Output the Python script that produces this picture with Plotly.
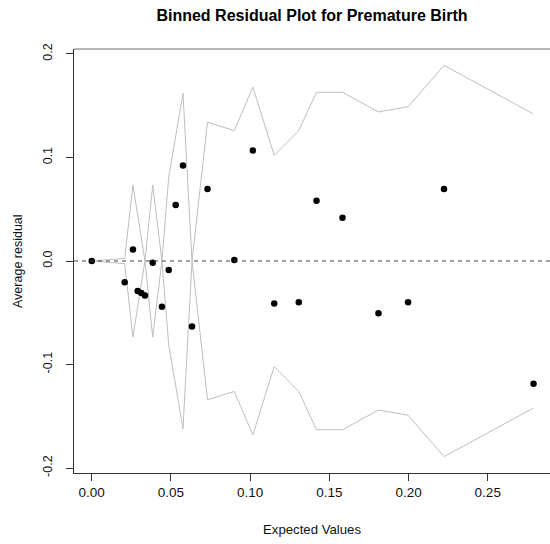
import plotly.graph_objects as go

# ---- data ----
expected = [0.0, 0.0208, 0.026, 0.029, 0.0313, 0.0336, 0.0385, 0.0443, 0.0486,
            0.053, 0.0576, 0.0633, 0.0731, 0.090, 0.1017, 0.1152, 0.1307, 0.1419,
            0.1583, 0.181, 0.1997, 0.2224, 0.2789]
avg_resid = [0.0, -0.0206, 0.011, -0.029, -0.031, -0.0334, -0.0016, -0.0443, -0.0086,
             0.054, 0.0923, -0.0633, 0.0695, 0.001, 0.1068, -0.0411, -0.0398, 0.0582,
             0.0418, -0.0504, -0.0398, 0.0695, -0.1186]
band_2se = [0.0, 0.0025, 0.0735, 0.044, 0.022, 0.0, 0.0735, 0.0, 0.081,
            0.122, 0.162, 0.0, 0.134, 0.126, 0.168, 0.102, 0.126, 0.163,
            0.163, 0.144, 0.149, 0.189, 0.142]
x_ticks = [0.0, 0.05, 0.10, 0.15, 0.20, 0.25]
x_ticktext = ["0.00", "0.05", "0.10", "0.15", "0.20", "0.25"]
y_ticks = [-0.2, -0.1, 0.0, 0.1, 0.2]
y_ticktext = ["-0.2", "-0.1", "0.0", "0.1", "0.2"]

title = "Binned Residual Plot for Premature Birth"
xlab = "Expected Values"
ylab = "Average residual"

FONT = "Liberation Sans, Arial, Helvetica, sans-serif"
band_color = "#bebebe"

fig = go.Figure()
fig.add_trace(go.Scatter(x=expected, y=band_2se, mode="lines",
                         line=dict(color=band_color, width=1), hoverinfo="skip"))
fig.add_trace(go.Scatter(x=expected, y=[-b for b in band_2se], mode="lines",
                         line=dict(color=band_color, width=1), hoverinfo="skip"))
fig.add_trace(go.Scatter(x=expected, y=avg_resid, mode="markers",
                         marker=dict(color="black", size=6.5)))

# dashed zero line
fig.add_shape(type="line", xref="paper", yref="y", x0=0, x1=1, y0=0, y1=0,
              line=dict(color="#444444", width=1, dash="4px,4px"))
# top border of the box
fig.add_shape(type="line", xref="paper", yref="paper", x0=0, x1=1, y0=1, y1=1,
              line=dict(color="#6f6f6f", width=1))

fig.update_layout(
    width=550, height=544, autosize=False,
    margin=dict(l=74, r=0, t=49, b=71),
    plot_bgcolor="white", paper_bgcolor="white",
    showlegend=False,
    font=dict(family=FONT, size=12, color="#111111"),
    title=dict(text="<b>" + title + "</b>", x=0.5, xref="paper", xanchor="center",
               y=1 - 15 / 544, yref="container", yanchor="middle",
               font=dict(family=FONT, size=16, color="black")),
    xaxis=dict(range=[-0.0112, 0.2893], showgrid=False, zeroline=False,
               showline=True, linecolor="#333333", linewidth=1,
               ticks="outside", ticklen=7, tickcolor="#333333",
               tickvals=x_ticks, ticktext=x_ticktext,
               tickfont=dict(family=FONT, size=13.5, color="#111111")),
    yaxis=dict(range=[-0.2048, 0.2048], showgrid=False, zeroline=False,
               showline=True, linecolor="#333333", linewidth=1,
               ticks="outside", ticklen=7, tickcolor="#333333",
               tickvals=y_ticks, ticktext=y_ticktext, tickangle=-90,
               ticklabelstandoff=9,
               tickfont=dict(family=FONT, size=12.5, color="#111111")),
    annotations=[
        dict(text=xlab, xref="paper", yref="paper", x=0.5, y=(473 - 529) / 424,
             xanchor="center", yanchor="middle", showarrow=False,
             font=dict(family=FONT, size=13.2, color="#111111")),
        dict(text=ylab, xref="paper", yref="paper", x=(18 - 74) / 476, y=0.5,
             xanchor="center", yanchor="middle", showarrow=False, textangle=-90,
             font=dict(family=FONT, size=12.5, color="#111111")),
    ],
)

fig.write_html("out.html", config={"displayModeBar": False},
               post_script="document.body.style.margin='0px';document.body.style.padding='0px';")
